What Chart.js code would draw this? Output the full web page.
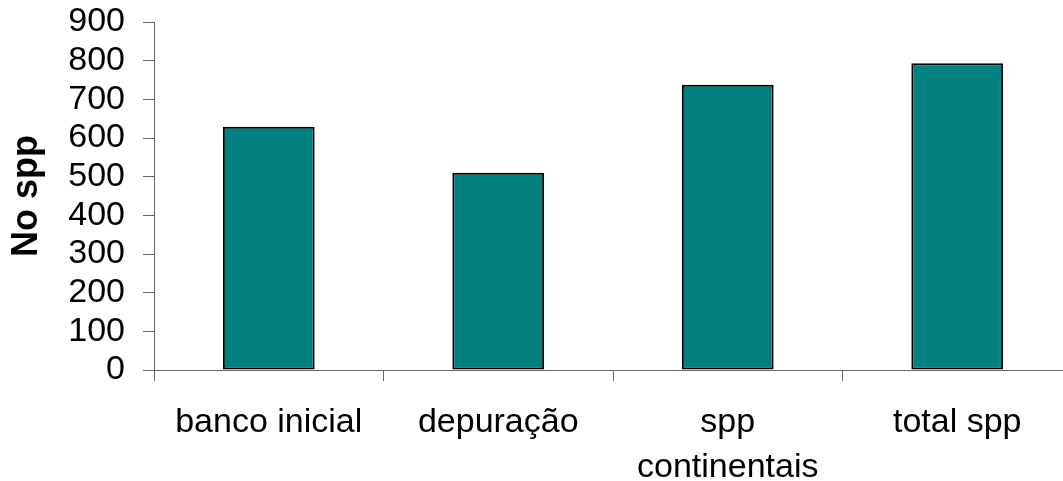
<!DOCTYPE html>
<html>
<head>
<meta charset="utf-8">
<script src="https://cdn.jsdelivr.net/npm/chart.js@4/dist/chart.umd.min.js"></script>
<style>
html,body{margin:0;padding:0;background:#fff;overflow:hidden;}
#wrap{width:1080px;height:481px;}
</style>
</head>
<body>
<div id="wrap"><canvas id="c" width="1080" height="481"></canvas></div>
<script>
const categories = ['banco inicial', 'depuração', ['spp', 'continentais'], 'total spp'];
const values = [629, 510, 738, 793];
const yTicks = [0, 100, 200, 300, 400, 500, 600, 700, 800, 900];
const yTitle = 'No spp';

const FONT = "'Liberation Sans', Arial, sans-serif";
const AXIS = '#666666';

new Chart(document.getElementById('c'), {
  type: 'bar',
  data: {
    labels: categories,
    datasets: [{
      data: values,
      backgroundColor: '#008080',
      borderColor: '#000000',
      borderWidth: 2,
      borderSkipped: false,
      categoryPercentage: 1.0,
      barPercentage: 0.4
    }]
  },
  options: {
    responsive: false,
    animation: false,
    devicePixelRatio: 1,
    layout: { padding: { top: 22, right: 8, left: 0, bottom: 0 } },
    plugins: { legend: { display: false }, tooltip: { enabled: false } },
    scales: {
      x: {
        grid: { display: true, drawOnChartArea: false, drawTicks: true, tickLength: 11, color: AXIS, lineWidth: 1, offset: true },
        border: { display: true, color: AXIS, width: 1 },
        ticks: { color: '#000', font: { family: FONT, size: 34, lineHeight: 1.32 }, padding: 19, maxRotation: 0, autoSkip: false },
        afterFit: (s) => { s.height = 111; s.paddingLeft = 0; s.paddingRight = 0; }
      },
      y: {
        min: 0, max: 900,
        afterBuildTicks: (s) => { s.ticks = yTicks.map(v => ({ value: v })); },
        grid: { display: true, drawOnChartArea: false, drawTicks: true, tickLength: 11, color: AXIS, lineWidth: 1 },
        border: { display: true, color: AXIS, width: 1 },
        ticks: { color: '#000', font: { family: FONT, size: 34 }, padding: 18, autoSkip: false },
        title: { display: true, text: yTitle, color: '#000', font: { family: FONT, size: 36, weight: 'bold' }, padding: { top: 5, bottom: 0 } },
        afterFit: (s) => { s.width = 154; s.paddingTop = 0; s.paddingBottom = 0; }
      }
    }
  }
});
</script>
</body>
</html>
